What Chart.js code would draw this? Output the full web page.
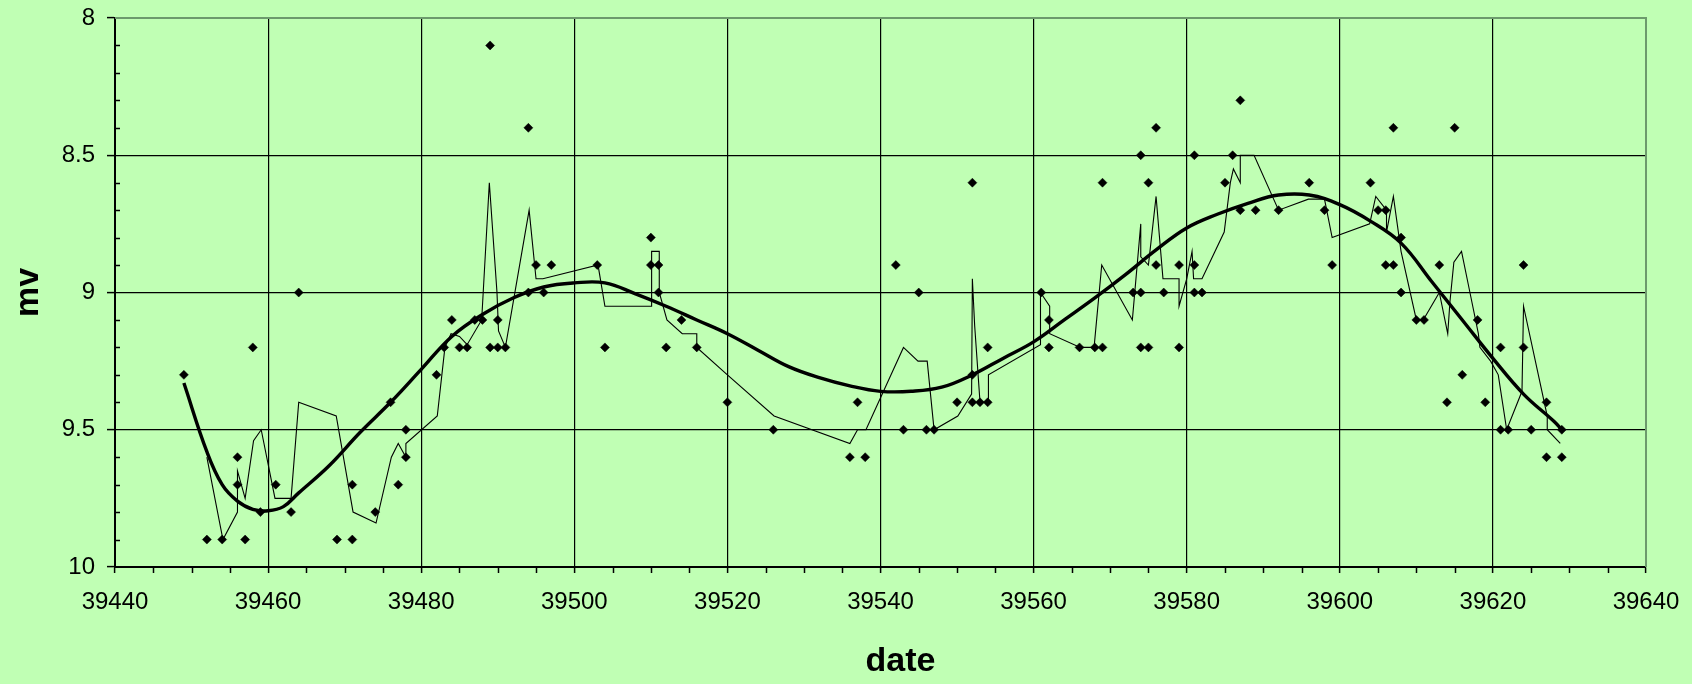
<!DOCTYPE html>
<html>
<head>
<meta charset="utf-8">
<script src="https://cdn.jsdelivr.net/npm/chart.js@4/dist/chart.umd.min.js"></script>
<style>
  html, body { margin: 0; padding: 0; background: #c0ffb4; }
  #wrap { width: 1692px; height: 684px; }
</style>
</head>
<body>
<div id="wrap"><canvas id="c" width="1692" height="684"></canvas></div>
<script>
// ---- observations (date, mv) ----
const obsDates = [
  39449, 39452, 39454, 39456, 39456, 39457, 39458, 39459, 39461, 39463,
  39464, 39469, 39471, 39471, 39474, 39476, 39477, 39478, 39478, 39482,
  39483, 39484, 39485, 39486, 39487, 39488, 39489, 39489, 39490, 39490,
  39491, 39494, 39494, 39495, 39496, 39497, 39503, 39504, 39510, 39510,
  39511, 39511, 39512, 39514, 39516, 39520, 39526, 39536, 39537, 39538,
  39542, 39543, 39545, 39546, 39547, 39550, 39552, 39552, 39552, 39553,
  39554, 39554, 39561, 39562, 39562, 39566, 39568, 39569, 39569, 39573,
  39574, 39574, 39574, 39575, 39575, 39576, 39576, 39577, 39579, 39579,
  39581, 39581, 39581, 39582, 39585, 39586, 39587, 39587, 39589, 39592,
  39596, 39598, 39599, 39604, 39605, 39606, 39606, 39607, 39607, 39608,
  39608, 39610, 39611, 39613, 39614, 39615, 39616, 39618, 39619, 39621,
  39621, 39622, 39624, 39624, 39625, 39627, 39627, 39629, 39629
];
const obsMags = [
  9.3, 9.9, 9.9, 9.6, 9.7, 9.9, 9.2, 9.8, 9.7, 9.8,
  9.0, 9.9, 9.9, 9.7, 9.8, 9.4, 9.7, 9.5, 9.6, 9.3,
  9.2, 9.1, 9.2, 9.2, 9.1, 9.1, 8.1, 9.2, 9.1, 9.2,
  9.2, 8.4, 9.0, 8.9, 9.0, 8.9, 8.9, 9.2, 8.8, 8.9,
  8.9, 9.0, 9.2, 9.1, 9.2, 9.4, 9.5, 9.6, 9.4, 9.6,
  8.9, 9.5, 9.0, 9.5, 9.5, 9.4, 8.6, 9.3, 9.4, 9.4,
  9.2, 9.4, 9.0, 9.1, 9.2, 9.2, 9.2, 8.6, 9.2, 9.0,
  8.5, 9.0, 9.2, 8.6, 9.2, 8.4, 8.9, 9.0, 8.9, 9.2,
  8.5, 8.9, 9.0, 9.0, 8.6, 8.5, 8.3, 8.7, 8.7, 8.7,
  8.6, 8.7, 8.9, 8.6, 8.7, 8.7, 8.9, 8.4, 8.9, 8.8,
  9.0, 9.1, 9.1, 8.9, 9.4, 8.4, 9.3, 9.1, 9.4, 9.2,
  9.5, 9.5, 8.9, 9.2, 9.5, 9.4, 9.6, 9.5, 9.6
];

// ---- thin running-mean line ----
const avgDates = [
  39452.0, 39454.1, 39456.0, 39456.0, 39457.0, 39458.1, 39459.1, 39460.9, 39463.0, 39464.0,
  39468.9, 39471.1, 39474.1, 39476.1, 39477.0, 39478.0, 39478.0, 39482.1, 39483.1, 39483.9,
  39485.0, 39486.0, 39487.9, 39488.9, 39489.9, 39490.1, 39491.0, 39494.1, 39495.0, 39495.9,
  39503.1, 39504.0, 39510.1, 39510.1, 39511.1, 39511.1, 39512.1, 39514.1, 39516.0, 39516.0,
  39520.0, 39526.1, 39536.0, 39537.0, 39538.1, 39543.0, 39544.9, 39546.1, 39547.0, 39550.1,
  39551.9, 39552.0, 39552.3, 39553.0, 39554.1, 39554.1, 39560.9, 39560.9, 39562.1, 39562.1,
  39566.1, 39567.9, 39568.9, 39572.9, 39574.0, 39574.0, 39575.0, 39576.0, 39576.9, 39579.0,
  39579.0, 39580.0, 39580.7, 39580.9, 39582.0, 39584.9, 39585.7, 39586.1, 39587.0, 39587.0,
  39588.8, 39592.0, 39595.9, 39598.0, 39599.0, 39603.9, 39604.7, 39606.1, 39606.1, 39607.0,
  39608.0, 39610.0, 39610.9, 39613.0, 39614.1, 39614.4, 39614.9, 39615.9, 39617.0, 39618.1,
  39618.3, 39619.7, 39620.7, 39621.8, 39623.8, 39624.0, 39627.1, 39627.1, 39628.8
];
const avgMags = [
  9.60, 9.90, 9.80, 9.65, 9.75, 9.54, 9.50, 9.75, 9.75, 9.40,
  9.45, 9.80, 9.84, 9.60, 9.55, 9.60, 9.55, 9.45, 9.20, 9.15,
  9.16, 9.19, 9.10, 8.60, 9.00, 9.14, 9.20, 8.70, 8.95, 8.95,
  8.90, 9.05, 9.05, 8.85, 8.85, 9.00, 9.10, 9.15, 9.15, 9.20,
  9.30, 9.45, 9.55, 9.50, 9.50, 9.20, 9.25, 9.25, 9.50, 9.45,
  9.37, 8.95, 9.12, 9.40, 9.40, 9.30, 9.19, 9.00, 9.05, 9.15,
  9.20, 9.20, 8.90, 9.10, 8.75, 8.87, 8.90, 8.65, 8.95, 8.95,
  9.05, 8.95, 8.85, 8.95, 8.95, 8.78, 8.60, 8.55, 8.60, 8.50,
  8.50, 8.70, 8.66, 8.66, 8.80, 8.75, 8.65, 8.70, 8.78, 8.65,
  8.85, 9.10, 9.10, 9.00, 9.15, 9.03, 8.89, 8.85, 9.00, 9.15,
  9.20, 9.25, 9.30, 9.50, 9.36, 9.05, 9.45, 9.50, 9.55
];

// ---- thick trend curve ----
const trendDates = [
  39449, 39452, 39454, 39456, 39458, 39460, 39462, 39464, 39468, 39472,
  39476, 39480, 39484, 39488, 39492, 39496, 39500, 39504, 39508, 39512,
  39516, 39520, 39524, 39528, 39532, 39536, 39540, 39544, 39548, 39552,
  39556, 39560, 39564, 39568, 39572, 39576, 39580, 39584, 39588, 39592,
  39596, 39600, 39604, 39608, 39612, 39616, 39620, 39624, 39628, 39629
];
const trendMags = [
  9.33, 9.58, 9.70, 9.76, 9.79, 9.795, 9.78, 9.73, 9.63, 9.51,
  9.40, 9.28, 9.16, 9.08, 9.02, 8.98, 8.965, 8.965, 9.005, 9.05,
  9.10, 9.15, 9.21, 9.27, 9.31, 9.34, 9.36, 9.36, 9.345, 9.30,
  9.24, 9.18, 9.10, 9.02, 8.935, 8.845, 8.765, 8.715, 8.675, 8.645,
  8.645, 8.68, 8.74, 8.82, 8.96, 9.10, 9.24, 9.37, 9.47, 9.50
];

// ---- axes ----
const xMin = 39440, xMax = 39640, xStep = 20, xMinorStep = 5;
const yMin = 8, yMax = 10, yStep = 0.5, yMinorStep = 0.1;
const xTitle = 'date';
const yTitle = 'mv';

const FONT = 'Liberation Sans, Arial, sans-serif';
const toXY = (xs, ys) => xs.map((x, i) => ({ x: x, y: ys[i] }));

const frameAndMinorTicks = {
  id: 'frameAndMinorTicks',
  beforeDatasetsDraw(chart) {
    const { ctx, chartArea: a, scales: { x, y } } = chart;
    ctx.save();
    // plot-area frame (top and right)
    ctx.strokeStyle = '#6c9a6c';
    ctx.lineWidth = 2;
    ctx.beginPath();
    ctx.moveTo(a.left, a.top);
    ctx.lineTo(a.right, a.top);
    ctx.lineTo(a.right, a.bottom);
    ctx.stroke();
    // minor ticks
    ctx.strokeStyle = '#000';
    ctx.lineWidth = 1.5;
    ctx.beginPath();
    const nY = Math.round((yMax - yMin) / yMinorStep);
    const perMajorY = Math.round(yStep / yMinorStep);
    for (let i = 1; i < nY; i++) {
      if (i % perMajorY === 0) continue;
      const py = Math.round(y.getPixelForValue(yMin + i * yMinorStep)) + 0.5;
      ctx.moveTo(a.left, py);
      ctx.lineTo(a.left + 5, py);
    }
    const nX = Math.round((xMax - xMin) / xMinorStep);
    const perMajorX = Math.round(xStep / xMinorStep);
    for (let i = 1; i < nX; i++) {
      if (i % perMajorX === 0) continue;
      const px = Math.round(x.getPixelForValue(xMin + i * xMinorStep)) + 0.5;
      ctx.moveTo(px, a.bottom);
      ctx.lineTo(px, a.bottom + 6);
    }
    ctx.stroke();
    ctx.restore();
  },
  afterDraw(chart) {
    // x-axis title, placed a little right of the plot centre as in the original
    const { ctx, chartArea: a, scales: { x } } = chart;
    ctx.save();
    ctx.fillStyle = '#000';
    ctx.font = 'bold 34px ' + FONT;
    ctx.textAlign = 'center';
    ctx.textBaseline = 'middle';
    ctx.fillText(xTitle, (a.left + a.right) / 2 + 20, x.bottom - 22);
    ctx.restore();
  }
};

new Chart(document.getElementById('c'), {
  type: 'scatter',
  data: {
    datasets: [
      {
        label: 'running mean',
        data: toXY(avgDates, avgMags),
        showLine: true,
        borderColor: '#000',
        borderWidth: 1.1,
        pointRadius: 0,
        tension: 0
      },
      {
        label: 'trend',
        data: toXY(trendDates, trendMags),
        showLine: true,
        borderColor: '#000',
        borderWidth: 3.4,
        pointRadius: 0,
        tension: 0.4
      },
      {
        label: 'mv',
        data: toXY(obsDates, obsMags),
        showLine: false,
        pointStyle: 'rectRot',
        pointRadius: 4.5,
        pointBackgroundColor: '#000',
        pointBorderColor: '#000',
        pointBorderWidth: 0.5
      }
    ]
  },
  options: {
    responsive: false,
    animation: false,
    devicePixelRatio: 1,
    events: [],
    layout: { padding: { left: 0, right: 46, top: 18, bottom: 0 } },
    plugins: { legend: { display: false }, tooltip: { enabled: false } },
    scales: {
      x: {
        type: 'linear',
        position: 'bottom',
        min: xMin, max: xMax,
        afterFit: s => { s.height = 117; s.paddingLeft = 0; s.paddingRight = 0; },
        ticks: {
          stepSize: xStep,
          color: '#000',
          padding: 15,
          maxRotation: 0,
          font: { family: FONT, size: 24 },
          callback: v => String(v)
        },
        grid: { color: '#000', lineWidth: 1.2, tickLength: 6, tickWidth: 1.5, tickColor: '#000' },
        border: { color: '#000', width: 2 },
        title: { display: false, text: xTitle }
      },
      y: {
        type: 'linear',
        reverse: true,
        min: yMin, max: yMax,
        afterFit: s => { s.width = 115; s.paddingTop = 0; s.paddingBottom = 0; },
        ticks: {
          stepSize: yStep,
          color: '#000',
          padding: 12,
          font: { family: FONT, size: 24 },
          callback: v => String(Math.round(v * 10) / 10)
        },
        grid: { color: '#000', lineWidth: 1.2, tickLength: 8, tickWidth: 1.5, tickColor: '#000' },
        border: { color: '#000', width: 2 },
        title: {
          display: true, text: yTitle, color: '#000',
          font: { family: FONT, size: 34, weight: 'bold' },
          padding: { top: 8, bottom: 0 }
        }
      }
    }
  },
  plugins: [frameAndMinorTicks]
});
</script>
</body>
</html>
